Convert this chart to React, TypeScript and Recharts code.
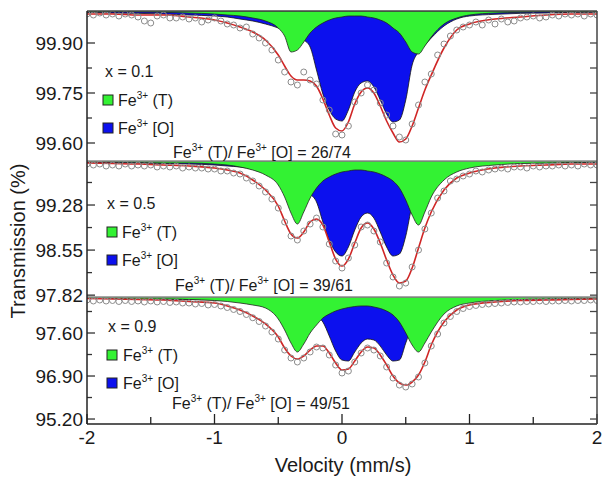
import React from 'react';
import { ComposedChart, Area, Line, Scatter, XAxis, YAxis } from 'recharts';

const FONT = 'Liberation Sans, Arial, sans-serif';

// velocity grid for the fitted curves (mm/s)
const VEL = [-2, -1.8, -1.6, -1.4, -1.2, -1.0, -0.9, -0.8, -0.7, -0.6, -0.5, -0.45, -0.4, -0.35, -0.3, -0.25, -0.2, -0.15, -0.1, -0.05, 0, 0.05, 0.1, 0.15, 0.2, 0.25, 0.3, 0.35, 0.4, 0.45, 0.5, 0.55, 0.6, 0.65, 0.7, 0.8, 0.9, 1.0, 1.2, 1.4, 1.6, 1.8, 2.0];

// velocity of the measured points
const VEL_PTS = [-2, -1.95, -1.9, -1.85, -1.8, -1.75, -1.7, -1.65, -1.6, -1.55, -1.5, -1.45, -1.4, -1.35, -1.3, -1.25, -1.2, -1.15, -1.1, -1.05, -1, -0.95, -0.9, -0.85, -0.8, -0.75, -0.7, -0.65, -0.6, -0.55, -0.5, -0.45, -0.4, -0.35, -0.3, -0.25, -0.2, -0.15, -0.1, -0.05, 0, 0.05, 0.1, 0.15, 0.2, 0.25, 0.3, 0.35, 0.4, 0.45, 0.5, 0.55, 0.6, 0.65, 0.7, 0.75, 0.8, 0.85, 0.9, 0.95, 1, 1.05, 1.1, 1.15, 1.2, 1.25, 1.3, 1.35, 1.4, 1.45, 1.5, 1.55, 1.6, 1.65, 1.7, 1.75, 1.8, 1.85, 1.9, 1.95, 2];

// x = 0.1
const FIT_1 = [99.987, 99.987, 99.984, 99.984, 99.978, 99.969, 99.960, 99.948, 99.933, 99.909, 99.864, 99.831, 99.801, 99.789, 99.789, 99.786, 99.771, 99.732, 99.684, 99.645, 99.636, 99.663, 99.717, 99.753, 99.765, 99.750, 99.711, 99.666, 99.630, 99.603, 99.612, 99.651, 99.705, 99.759, 99.804, 99.885, 99.939, 99.957, 99.972, 99.978, 99.984, 99.987, 99.987];
const T_1 = [99.993, 99.993, 99.993, 99.992, 99.990, 99.987, 99.984, 99.981, 99.975, 99.966, 99.945, 99.921, 99.873, 99.879, 99.903, 99.930, 99.948, 99.960, 99.969, 99.975, 99.978, 99.981, 99.981, 99.981, 99.978, 99.975, 99.969, 99.960, 99.945, 99.930, 99.903, 99.873, 99.867, 99.891, 99.918, 99.957, 99.975, 99.984, 99.990, 99.992, 99.993, 99.993, 99.993];
const O_1 = [99.992, 99.990, 99.989, 99.987, 99.984, 99.981, 99.978, 99.972, 99.966, 99.957, 99.945, 99.936, 99.927, 99.918, 99.909, 99.888, 99.819, 99.747, 99.699, 99.672, 99.666, 99.699, 99.753, 99.780, 99.786, 99.768, 99.729, 99.687, 99.663, 99.669, 99.729, 99.834, 99.873, 99.894, 99.915, 99.951, 99.972, 99.981, 99.986, 99.989, 99.990, 99.992, 99.992];
const PTS_1 = [99.987, 99.984, 99.990, 99.984, 99.987, 99.981, 99.987, 99.984, 99.978, 99.966, 99.960, 99.981, 99.984, 99.975, 99.975, 99.978, 99.972, 99.975, 99.963, 99.969, 99.975, 99.966, 99.957, 99.954, 99.945, 99.948, 99.927, 99.915, 99.900, 99.879, 99.849, 99.813, 99.783, 99.774, 99.813, 99.789, 99.777, 99.729, 99.699, 99.627, 99.624, 99.651, 99.723, 99.750, 99.774, 99.759, 99.720, 99.684, 99.651, 99.618, 99.609, 99.657, 99.714, 99.783, 99.807, 99.864, 99.897, 99.921, 99.939, 99.948, 99.954, 99.963, 99.954, 99.969, 99.957, 99.972, 99.963, 99.966, 99.975, 99.978, 99.981, 99.975, 99.978, 99.984, 99.981, 99.987, 99.984, 99.987, 99.981, 99.987, 99.984];

// x = 0.5
const FIT_2 = [99.960, 99.952, 99.944, 99.928, 99.912, 99.879, 99.847, 99.798, 99.685, 99.523, 99.264, 99.021, 98.810, 98.745, 98.843, 99.005, 99.053, 98.956, 98.681, 98.405, 98.292, 98.405, 98.664, 98.907, 98.988, 98.891, 98.664, 98.389, 98.146, 98.016, 98.049, 98.259, 98.583, 98.907, 99.167, 99.523, 99.717, 99.798, 99.879, 99.912, 99.928, 99.944, 99.944];
const T_2 = [99.977, 99.977, 99.969, 99.960, 99.960, 99.944, 99.928, 99.896, 99.847, 99.766, 99.604, 99.410, 99.150, 98.972, 99.167, 99.393, 99.555, 99.669, 99.734, 99.782, 99.815, 99.831, 99.847, 99.847, 99.831, 99.815, 99.782, 99.734, 99.669, 99.555, 99.361, 99.118, 98.956, 99.167, 99.410, 99.685, 99.815, 99.879, 99.928, 99.952, 99.960, 99.969, 99.977];
const O_2 = [99.969, 99.969, 99.960, 99.952, 99.944, 99.928, 99.912, 99.896, 99.863, 99.815, 99.750, 99.701, 99.636, 99.572, 99.523, 99.458, 99.329, 99.005, 98.713, 98.519, 98.454, 98.600, 98.875, 99.086, 99.150, 99.069, 98.843, 98.600, 98.454, 98.486, 98.778, 99.280, 99.555, 99.685, 99.750, 99.831, 99.879, 99.912, 99.944, 99.960, 99.960, 99.969, 99.969];
const PTS_2 = [99.944, 99.928, 99.944, 99.912, 99.928, 99.912, 99.944, 99.912, 99.928, 99.912, 99.928, 99.896, 99.912, 99.896, 99.912, 99.879, 99.896, 99.879, 99.879, 99.863, 99.863, 99.831, 99.831, 99.798, 99.782, 99.717, 99.669, 99.588, 99.491, 99.377, 99.231, 99.005, 98.778, 98.713, 98.859, 98.972, 99.069, 98.924, 98.648, 98.373, 98.259, 98.421, 98.632, 98.924, 98.956, 98.859, 98.681, 98.340, 98.114, 97.968, 98.016, 98.276, 98.551, 98.891, 99.150, 99.393, 99.507, 99.669, 99.701, 99.750, 99.782, 99.831, 99.815, 99.847, 99.863, 99.879, 99.863, 99.896, 99.896, 99.879, 99.912, 99.896, 99.912, 99.912, 99.928, 99.912, 99.928, 99.912, 99.944, 99.928, 99.928];

// x = 0.9
const FIT_3 = [98.162, 98.154, 98.145, 98.137, 98.113, 98.088, 98.040, 97.974, 97.877, 97.747, 97.535, 97.356, 97.226, 97.177, 97.226, 97.323, 97.388, 97.388, 97.274, 97.112, 96.998, 97.014, 97.144, 97.291, 97.372, 97.356, 97.242, 97.079, 96.900, 96.786, 96.753, 96.802, 96.916, 97.128, 97.405, 97.779, 97.974, 98.056, 98.105, 98.129, 98.137, 98.145, 98.154];
const T_3 = [98.162, 98.162, 98.154, 98.154, 98.145, 98.129, 98.113, 98.088, 98.056, 98.007, 97.828, 97.649, 97.437, 97.291, 97.421, 97.600, 97.730, 97.844, 97.909, 97.958, 97.991, 98.015, 98.031, 98.040, 98.040, 98.023, 97.999, 97.958, 97.893, 97.779, 97.600, 97.405, 97.291, 97.437, 97.616, 97.909, 98.040, 98.088, 98.129, 98.145, 98.154, 98.162, 98.162];
const O_3 = [98.162, 98.162, 98.154, 98.145, 98.145, 98.137, 98.129, 98.121, 98.105, 98.080, 98.056, 98.031, 98.007, 97.983, 97.958, 97.926, 97.877, 97.779, 97.551, 97.307, 97.160, 97.144, 97.291, 97.437, 97.502, 97.486, 97.388, 97.242, 97.144, 97.160, 97.437, 97.714, 97.877, 97.958, 98.007, 98.072, 98.105, 98.121, 98.137, 98.145, 98.154, 98.162, 98.162];
const PTS_3 = [98.137, 98.121, 98.137, 98.121, 98.129, 98.113, 98.129, 98.113, 98.121, 98.105, 98.121, 98.105, 98.113, 98.097, 98.105, 98.088, 98.088, 98.072, 98.080, 98.056, 98.064, 98.040, 98.015, 97.983, 97.950, 97.901, 97.848, 97.787, 97.714, 97.616, 97.502, 97.323, 97.193, 97.128, 97.193, 97.291, 97.372, 97.356, 97.242, 97.079, 96.949, 96.981, 97.128, 97.274, 97.356, 97.323, 97.226, 97.047, 96.867, 96.753, 96.721, 96.770, 96.884, 97.112, 97.388, 97.584, 97.763, 97.869, 97.950, 97.999, 98.031, 98.048, 98.064, 98.072, 98.080, 98.088, 98.097, 98.105, 98.105, 98.113, 98.113, 98.121, 98.113, 98.121, 98.121, 98.129, 98.121, 98.129, 98.129, 98.137, 98.129];

// axis ticks (empty label = minor tick)
const Y_TICKS_1 = [99.90, 99.825, 99.75, 99.675, 99.60];
const Y_LABELS_1 = ['99.90', '', '99.75', '', '99.60'];
const Y_TICKS_2 = [99.645, 99.28, 98.915, 98.55, 98.185, 97.82];
const Y_LABELS_2 = ['', '99.28', '', '98.55', '', '97.82'];
const Y_TICKS_3 = [97.95, 97.60, 97.25, 96.90, 96.55, 96.20];
const Y_LABELS_3 = ['', '97.60', '', '96.90', '', '95.20'];
const X_TICKS = [-2, -1.5, -1, -0.5, 0, 0.5, 1, 1.5, 2];
const X_LABELS = ['-2', '', '-1', '', '0', '', '1', '', '2'];

const SAMPLES = ['x = 0.1', 'x = 0.5', 'x = 0.9'];
const RATIOS = ['26/74', '39/61', '49/51'];

const GREEN = '#33f233';
const BLUE = '#0c10ee';
const RED = '#d02626';
const PLOT_L = 87;
const PLOT_R = 597;

const YTick = (props: any) => {
  const { y, payload, ticks, labels } = props;
  const lab = labels[ticks.indexOf(payload.value)];
  const len = lab ? 8 : 5;
  return (
    <g>
      <line x1={PLOT_L} x2={PLOT_L + len} y1={y} y2={y} stroke="#333" strokeWidth={1.3} />
      <line x1={PLOT_R} x2={PLOT_R - 7} y1={y} y2={y} stroke="#444" strokeWidth={1.3} />
      {lab ? (
        <text x={83} y={y} dy="0.35em" textAnchor="end" fontSize={19} fill="#1a1a1a" fontFamily={FONT}>
          {lab}
        </text>
      ) : null}
    </g>
  );
};

const XTick = (props: any) => {
  const { x, payload, plotH } = props;
  const lab = X_LABELS[X_TICKS.indexOf(payload.value)];
  return (
    <g>
      <line x1={x} x2={x} y1={plotH} y2={plotH - (lab ? 10 : 7)} stroke="#222" strokeWidth={1.3} />
      {lab ? (
        <text x={x} y={plotH + 13} dy="0.35em" textAnchor="middle" fontSize={19} fill="#1a1a1a" fontFamily={FONT}>
          {lab}
        </text>
      ) : null}
    </g>
  );
};

interface PanelProps {
  top: number;
  plotH: number;
  domain: [number, number];
  ticks: number[];
  labels: string[];
  fit: number[];
  t: number[];
  o: number[];
  pts: number[];
  showX?: boolean;
}

const Panel = ({ top, plotH, domain, ticks, labels, fit, t, o, pts, showX = false }: PanelProps) => {
  const base = domain[1];
  const rows = VEL.map((v, i) => ({ v, fit: fit[i], t: [base, t[i]], o: [base, o[i]] }));
  const dots = VEL_PTS.map((v, i) => ({ v, y: pts[i] }));
  const xH = showX ? 53 : 0;
  // extra room under the plot so the lowest tick label is not cut
  const pad = showX ? 0 : 14;
  return (
    <div style={{ position: 'absolute', left: 0, top }}>
      <ComposedChart width={606} height={plotH + xH + pad} margin={{ top: 0, right: 606 - PLOT_R, bottom: pad, left: 0 }}>
        <XAxis
          type="number"
          dataKey="v"
          domain={[-2, 2]}
          ticks={X_TICKS}
          interval={0}
          hide={!showX}
          height={xH}
          axisLine={false}
          tickLine={false}
          tick={(p: any) => <XTick {...p} plotH={plotH} />}
          allowDataOverflow
        />
        <YAxis
          type="number"
          domain={domain}
          ticks={ticks}
          interval={0}
          width={PLOT_L}
          axisLine={false}
          tickLine={false}
          tick={(p: any) => <YTick {...p} ticks={ticks} labels={labels} />}
          allowDataOverflow
        />
        <Area data={rows} dataKey="o" type="monotone" fill={BLUE} fillOpacity={1} stroke="#111" strokeWidth={0.8} isAnimationActive={false} />
        <Area data={rows} dataKey="t" type="monotone" fill={GREEN} fillOpacity={1} stroke="#222" strokeWidth={0.8} isAnimationActive={false} />
        <Scatter
          data={dots}
          dataKey="y"
          isAnimationActive={false}
          shape={(p: any) => <circle cx={p.cx} cy={p.cy} r={3} fill="none" stroke="#8c8c8c" strokeWidth={1} />}
        />
        <Line data={rows} dataKey="fit" type="monotone" stroke={RED} strokeWidth={1.6} dot={false} isAnimationActive={false} />
      </ComposedChart>
    </div>
  );
};

const Legend = ({ y0, lx, sx, tx, rx, ry, i }: { y0: number; lx: number; sx: number; tx: number; rx: number; ry: number; i: number }) => (
  <g fontFamily={FONT} fill="#1a1a1a" fontSize={16}>
    <text x={lx} y={y0} dominantBaseline="central">{SAMPLES[i]}</text>
    <rect x={sx} y={y0 + 24} width={10} height={10} fill={GREEN} stroke="#222" strokeWidth={1} />
    <text x={tx} y={y0 + 29} dominantBaseline="central">
      Fe<tspan fontSize={10} dy={-5}>3+</tspan><tspan dy={5}> (T)</tspan>
    </text>
    <rect x={sx} y={y0 + 52} width={10} height={10} fill={BLUE} stroke="#222" strokeWidth={1} />
    <text x={tx} y={y0 + 57} dominantBaseline="central">
      Fe<tspan fontSize={10} dy={-5}>3+</tspan><tspan dy={5}> [O]</tspan>
    </text>
    <text x={rx} y={ry} dominantBaseline="central">
      Fe<tspan fontSize={10} dy={-5}>3+</tspan><tspan dy={5}> (T)/ Fe</tspan>
      <tspan fontSize={10} dy={-5}>3+</tspan><tspan dy={5}> [O] = {RATIOS[i]}</tspan>
    </text>
  </g>
);

export default function App() {
  return (
    <div style={{ position: 'absolute', left: 0, top: 0, width: 606, height: 477, background: '#fff', overflow: 'hidden' }}>
      <Panel top={11} plotH={150} domain={[99.546, 99.996]} ticks={Y_TICKS_1} labels={Y_LABELS_1} fit={FIT_1} t={T_1} o={O_1} pts={PTS_1} />
      <Panel top={161} plotH={136} domain={[97.79, 99.993]} ticks={Y_TICKS_2} labels={Y_LABELS_2} fit={FIT_2} t={T_2} o={O_2} pts={PTS_2} />
      <Panel top={297} plotH={127} domain={[96.119, 98.186]} ticks={Y_TICKS_3} labels={Y_LABELS_3} fit={FIT_3} t={T_3} o={O_3} pts={PTS_3} showX />
      <svg width={606} height={477} style={{ position: 'absolute', left: 0, top: 0, pointerEvents: 'none' }}>
        <line x1={PLOT_L} x2={PLOT_R} y1={161} y2={161} stroke="#8a8a8a" strokeWidth={1.5} />
        <line x1={PLOT_L} x2={PLOT_R} y1={297} y2={297} stroke="#8a8a8a" strokeWidth={1.5} />
        <line x1={PLOT_L} x2={PLOT_R} y1={11} y2={11} stroke="#444" strokeWidth={1.5} />
        <line x1={PLOT_L} x2={PLOT_R} y1={424} y2={424} stroke="#222" strokeWidth={1.5} />
        <line x1={PLOT_L} x2={PLOT_L} y1={11} y2={424} stroke="#222" strokeWidth={1.5} />
        <line x1={PLOT_R} x2={PLOT_R} y1={11} y2={424} stroke="#444" strokeWidth={1.5} />
        <Legend i={0} y0={71} lx={105} sx={103} tx={118} rx={173} ry={152} />
        <Legend i={1} y0={203} lx={107} sx={107} tx={122} rx={175} ry={285} />
        <Legend i={2} y0={326} lx={108} sx={107} tx={123} rx={172} ry={403} />
        <text x={0} y={0} transform="translate(18 241) rotate(-90)" textAnchor="middle" dominantBaseline="central" fontSize={20} fill="#1a1a1a" fontFamily={FONT}>
          Transmission (%)
        </text>
        <text x={343} y={465} textAnchor="middle" dominantBaseline="central" fontSize={20} fill="#1a1a1a" fontFamily={FONT}>
          Velocity (mm/s)
        </text>
      </svg>
    </div>
  );
}
